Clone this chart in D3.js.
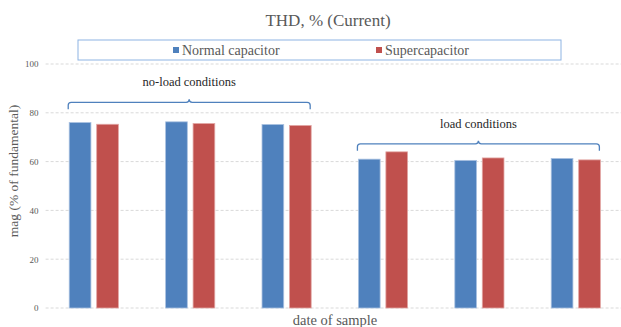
<!DOCTYPE html>
<html>
<head>
<meta charset="utf-8">
<script src="https://cdn.jsdelivr.net/npm/d3@7.9.0/dist/d3.min.js"></script>
<style>
  body { margin: 0; background: #fff; }
  svg text { font-family: "Liberation Serif", "DejaVu Serif", "Tinos", "Times New Roman", serif; }
</style>
</head>
<body>
<svg id="chart" width="621" height="327"></svg>
<script>
// ===== DATA =====
const samples = ["s1", "s2", "s3", "s4", "s5", "s6"];
const seriesNames = ["Normal capacitor", "Supercapacitor"];
const normalCap = [76.0, 76.3, 75.2, 61.0, 60.5, 61.3];
const superCap = [75.3, 75.6, 74.8, 64.0, 61.5, 60.7];
const yTicks = [0, 20, 40, 60, 80, 100];
const groups = [
  { label: "no-load conditions", from: "s1", to: "s3", level: 84.3 },
  { label: "load conditions", from: "s4", to: "s6", level: 67.3 }
];

const colors = { "Normal capacitor": "#4f81bd", "Supercapacitor": "#c0504d" };
const borders = { "Normal capacitor": "#a9c1e0", "Supercapacitor": "#e2a6a4" };

const svg = d3.select("#chart");
const margin = { top: 64, left: 45.6, right: -3, bottom: 19 };
const width = 621 - margin.left - margin.right;
const height = 327 - margin.top - margin.bottom;
const g = svg.append("g").attr("transform", `translate(${margin.left},${margin.top})`);

const x0 = d3.scaleBand().domain(samples).range([0, width])
  .paddingInner(0.49).paddingOuter(0.245);
const x1 = d3.scaleBand().domain(seriesNames).range([0, x0.bandwidth()]).paddingInner(0.21);
const y = d3.scaleLinear().domain([0, 100]).range([height, 0]);

// ===== GRID =====
g.selectAll(".grid")
  .data(yTicks)
  .enter().append("line")
  .attr("x1", 0).attr("x2", width)
  .attr("y1", d => y(d)).attr("y2", d => y(d))
  .attr("stroke", "#d9d9d9")
  .attr("stroke-width", 1)
  .attr("stroke-dasharray", "3 2");

const yAxis = g.append("g").call(d3.axisLeft(y).tickValues(yTicks).tickSize(0).tickPadding(7));
yAxis.attr("font-family", null);
yAxis.select(".domain").remove();
yAxis.selectAll("text")
  .attr("font-size", "9px")
  .attr("fill", "#595959");

// ===== BARS =====
const rows = samples.map((s, i) => ({ sample: s, values: [
  { name: seriesNames[0], value: normalCap[i] },
  { name: seriesNames[1], value: superCap[i] }
] }));

g.selectAll(".group")
  .data(rows)
  .enter().append("g")
  .attr("transform", d => `translate(${x0(d.sample)},0)`)
  .selectAll("rect")
  .data(d => d.values)
  .enter().append("rect")
  .attr("x", d => x1(d.name))
  .attr("y", d => y(d.value))
  .attr("width", x1.bandwidth())
  .attr("height", d => y(0) - y(d.value))
  .attr("fill", d => colors[d.name])
  .attr("stroke", d => borders[d.name])
  .attr("stroke-width", 0.8);

// ===== BRACKETS =====
groups.forEach(grp => {
  const left = x0(grp.from) - 1;
  const right = x0(grp.to) + x0.bandwidth() - 1;
  const mid = (left + right) / 2;
  const yy = y(grp.level);
  const r = 3;
  const path = `M${left},${yy + 7} L${left},${yy + r} Q${left},${yy} ${left + r},${yy}`
    + ` L${mid - r},${yy} Q${mid},${yy} ${mid},${yy - r}`
    + ` Q${mid},${yy} ${mid + r},${yy}`
    + ` L${right - r},${yy} Q${right},${yy} ${right},${yy + r} L${right},${yy + 7}`;
  g.append("path")
    .attr("d", path)
    .attr("fill", "none")
    .attr("stroke", "#4f81bd")
    .attr("stroke-width", 1.3);
  g.append("text")
    .attr("x", mid)
    .attr("y", yy - 16)
    .attr("text-anchor", "middle")
    .attr("font-size", "12.5px")
    .attr("fill", "#262626")
    .text(grp.label);
});

// ===== TITLE & AXIS LABELS =====
svg.append("text")
  .attr("x", 328)
  .attr("y", 26)
  .attr("text-anchor", "middle")
  .attr("font-size", "17px")
  .attr("fill", "#595959")
  .text("THD, % (Current)");

svg.append("text")
  .attr("transform", "rotate(-90)")
  .attr("x", -171)
  .attr("y", 18)
  .attr("text-anchor", "middle")
  .attr("font-size", "13.5px")
  .attr("fill", "#595959")
  .text("mag (% of fundamental)");

svg.append("text")
  .attr("x", 335)
  .attr("y", 325)
  .attr("text-anchor", "middle")
  .attr("font-size", "14.5px")
  .attr("fill", "#595959")
  .text("date of sample");

// ===== LEGEND =====
const legend = svg.append("g").attr("class", "legend");
legend.append("rect")
  .attr("x", 78).attr("y", 40)
  .attr("width", 483).attr("height", 20)
  .attr("fill", "#fff")
  .attr("stroke", "#8eb4e3")
  .attr("stroke-width", 1);

const legendX = [173, 376];
seriesNames.forEach((name, i) => {
  legend.append("rect")
    .attr("x", legendX[i]).attr("y", 47)
    .attr("width", 6).attr("height", 6)
    .attr("fill", colors[name]);
  legend.append("text")
    .attr("x", legendX[i] + 9)
    .attr("y", 55)
    .attr("font-size", "14px")
    .attr("fill", "#595959")
    .text(name);
});
</script>
</body>
</html>
